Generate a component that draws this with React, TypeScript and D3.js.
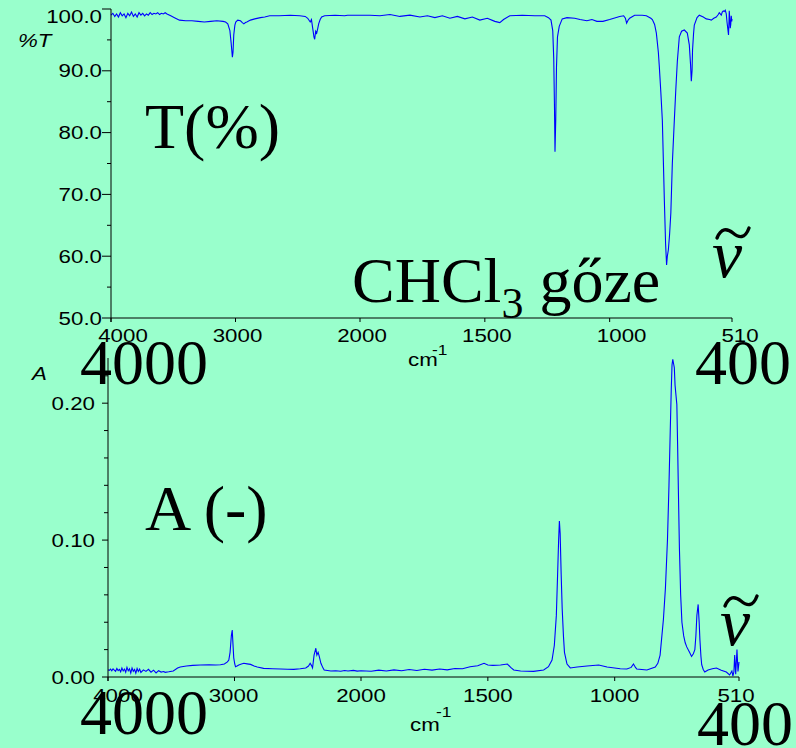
import React from "react";
import * as d3 from "d3";

// ---------- DATA ----------
const X_TICKS = [4000, 3000, 2000, 1500, 1000, 510];
const T_TICKS_MAJOR = [100, 90, 80, 70, 60, 50];
const T_TICKS_MINOR = [95, 85, 75, 65, 55];
const A_TICKS_MAJOR = [0, 0.1, 0.2];
const A_TICKS_MINOR = [0.02, 0.04, 0.06, 0.08, 0.12, 0.14, 0.16, 0.18, 0.22];

// Transmittance spectrum (wavenumber cm-1, %T)
const T_WN = [
  4000, 3985, 3970, 3955, 3940, 3925, 3910, 3895, 3880, 3865, 3850, 3835, 3820, 3805, 3790, 3775,
  3760, 3745, 3730, 3715, 3700, 3685, 3670, 3655, 3640, 3625, 3610, 3595, 3580, 3565, 3550, 3520,
  3490, 3450, 3400, 3350, 3300, 3250, 3200, 3150, 3100, 3080, 3062, 3045, 3035, 3025, 3020, 3014,
  3005, 2998, 2982, 2960, 2945, 2933, 2920, 2909, 2880, 2845, 2800, 2765, 2725, 2650, 2560, 2484,
  2440, 2420, 2400, 2390, 2380, 2370, 2364, 2356, 2348, 2340, 2332, 2320, 2308, 2284, 2200, 2124,
  2100, 2050, 2000, 1960, 1920, 1880, 1840, 1800, 1760, 1730, 1700, 1670, 1640, 1610, 1580, 1550,
  1520, 1490, 1460, 1440, 1425, 1400, 1350, 1300, 1260, 1245, 1235, 1228, 1224, 1221, 1219, 1216,
  1213, 1209, 1202, 1190, 1171, 1140, 1119, 1091, 1071, 1051, 1027, 1000, 960, 944, 937, 932,
  926, 920, 900, 870, 853, 835, 829, 820, 813, 805, 801, 795, 789, 781, 776, 772,
  769, 765, 760, 755, 749, 741, 735, 729, 721, 712, 701, 689, 681, 676, 673, 670,
  668, 664, 661, 650, 641, 625, 613, 600, 593, 583, 573, 565, 561, 557, 553, 549,
  545, 541, 537, 533, 530, 526, 524, 522, 521, 519, 517, 515, 513, 511, 510,
];
const T_VAL = [
  99.0, 99.3, 98.8, 99.2, 98.7, 99.4, 98.9, 99.2, 98.6, 99.3, 98.9, 99.5, 98.8, 99.2, 98.7, 99.4,
  99.0, 99.3, 98.9, 99.2, 99.0, 99.4, 99.1, 99.3, 99.2, 99.4, 99.1, 99.3, 99.2, 99.4, 99.2, 98.9,
  98.6, 98.2, 98.1, 98.1, 98.0, 97.9, 98.0, 98.1, 98.0, 97.9, 97.6, 96.5, 94.5, 92.2, 93.0, 95.8,
  97.4, 97.9, 98.2, 98.1, 97.8, 97.6, 97.8, 97.9, 98.2, 98.4, 98.6, 98.7, 98.9, 98.9, 99.0, 98.9,
  98.8, 98.5, 97.9, 98.3, 96.9, 95.5, 95.1, 96.4, 96.1, 96.8, 97.6, 98.3, 98.7, 98.9, 99.0, 98.9,
  99.0, 99.0, 99.0, 99.0, 98.9, 99.1, 98.8, 99.0, 98.7, 98.9, 98.6, 98.9, 98.5, 98.8, 98.4, 98.7,
  98.2, 98.5, 98.0, 97.8, 98.3, 98.9, 99.0, 98.9, 98.9, 98.6, 98.2, 96.5, 92.0, 84.0, 76.9, 82.0,
  90.6, 95.5, 97.2, 98.4, 98.6, 98.5, 98.3, 98.1, 98.3, 98.0, 98.0, 98.3, 98.8, 98.9, 98.5, 97.7,
  98.2, 98.5, 99.0, 99.0, 98.9, 98.5, 98.3, 97.5, 96.1, 93.0, 90.6, 86.5, 82.0, 69.1, 62.0, 58.6,
  60.0, 61.0, 63.5, 67.0, 75.0, 82.0, 87.0, 91.5, 95.5, 96.4, 96.6, 96.1, 94.2, 91.0, 88.3, 90.0,
  93.4, 96.0, 97.4, 98.6, 99.0, 98.7, 98.4, 98.3, 98.2, 98.5, 98.7, 99.1, 99.4, 99.2, 99.0, 99.5,
  99.7, 99.6, 99.8, 99.2, 97.9, 96.5, 95.8, 98.0, 99.7, 98.5, 96.9, 97.5, 98.9, 98.0, 98.4,
];

// Absorbance spectrum (wavenumber cm-1, A)
const A_WN = [
  4000, 3990, 3980, 3970, 3960, 3950, 3940, 3930, 3920, 3910, 3900, 3890, 3880, 3870, 3860, 3850,
  3840, 3830, 3820, 3810, 3800, 3790, 3780, 3770, 3760, 3750, 3740, 3720, 3700, 3680, 3660, 3640,
  3620, 3600, 3580, 3560, 3548, 3520, 3484, 3450, 3429, 3380, 3330, 3270, 3200, 3150, 3111, 3080,
  3056, 3045, 3035, 3025, 3018, 3012, 3006, 2998, 2992, 2980, 2966, 2945, 2926, 2900, 2873, 2845,
  2820, 2770, 2700, 2635, 2580, 2532, 2480, 2437, 2415, 2402, 2392, 2383, 2371, 2357, 2349, 2339,
  2330, 2317, 2300, 2291, 2238, 2200, 2160, 2130, 2103, 2060, 2030, 2000, 1960, 1930, 1900, 1870,
  1840, 1810, 1780, 1750, 1720, 1690, 1660, 1630, 1600, 1570, 1540, 1515, 1500, 1480, 1450, 1423,
  1410, 1398, 1371, 1320, 1280, 1261, 1247, 1238, 1230, 1225, 1221, 1218, 1215, 1211, 1207, 1202,
  1198, 1188, 1175, 1148, 1109, 1063, 1030, 978, 952, 935, 926, 918, 913, 873, 840, 830,
  821, 808, 800, 792, 786, 781, 777, 774, 771, 768, 765, 762, 758, 755, 752, 749,
  745, 740, 735, 728, 722, 716, 705, 697, 690, 684, 680, 676, 671, 667, 664, 660,
  657, 651, 645, 632, 615, 599, 580, 560, 547, 538, 534, 530, 527, 523, 518, 514, 510,
];
const A_VAL = [
  0.0053, 0.0048, 0.0058, 0.0045, 0.006, 0.005, 0.0042, 0.0062, 0.0047, 0.0056, 0.0038, 0.0065, 0.0044, 0.0058, 0.0035, 0.007,
  0.0045, 0.006, 0.003, 0.0066, 0.0042, 0.0055, 0.0028, 0.0062, 0.004, 0.0058, 0.0033, 0.0052, 0.0041, 0.0056, 0.0035, 0.005,
  0.003, 0.0046, 0.0036, 0.004, 0.0034, 0.0038, 0.0044, 0.0065, 0.0073, 0.008, 0.0085, 0.0088, 0.009, 0.0088, 0.009, 0.0095,
  0.011, 0.0124, 0.018, 0.03, 0.0343, 0.024, 0.014, 0.0095, 0.0075, 0.008, 0.0088, 0.0095, 0.01, 0.0096, 0.0092, 0.008,
  0.0073, 0.0063, 0.006, 0.0058, 0.0057, 0.0056, 0.006, 0.0066, 0.008, 0.01, 0.0085, 0.0066, 0.016, 0.021, 0.016, 0.018,
  0.015, 0.01, 0.0065, 0.0051, 0.0044, 0.0046, 0.0042, 0.0047, 0.0044, 0.0048, 0.0043, 0.0046, 0.0042, 0.005, 0.0044, 0.0052,
  0.0046, 0.0055, 0.0048, 0.0057, 0.005, 0.0058, 0.0052, 0.0062, 0.006, 0.0075, 0.0082, 0.01, 0.0088, 0.0085, 0.0088, 0.0095,
  0.007, 0.0051, 0.0044, 0.0041, 0.0051, 0.0075, 0.0124, 0.023, 0.045, 0.075, 0.1, 0.114, 0.105, 0.075, 0.05, 0.03,
  0.018, 0.0095, 0.0066, 0.0073, 0.008, 0.0088, 0.0073, 0.006, 0.0058, 0.007, 0.0095, 0.007, 0.0058, 0.0051, 0.0073, 0.01,
  0.016, 0.042, 0.065, 0.1, 0.14, 0.18, 0.21, 0.228, 0.232, 0.229, 0.226, 0.213, 0.205, 0.199, 0.17, 0.137,
  0.095, 0.06, 0.04, 0.03, 0.025, 0.022, 0.018, 0.015, 0.017, 0.02, 0.03, 0.045, 0.053, 0.04, 0.027, 0.015,
  0.009, 0.0055, 0.0036, 0.0051, 0.006, 0.0066, 0.005, 0.0036, 0.0015, 0.0044, 0.0007, 0.004, 0.016, 0.002, 0.02, 0.004, 0.011,
];

// ---------- STYLE ----------
const BG = "#99ffcc";
const LINE = "#0000ff";
const SANS = "'Liberation Sans', Arial, sans-serif";
const SERIF = "'Liberation Serif', 'Times New Roman', serif";
const SX = 1.24;
const TOP_LABEL_DX: Record<number, number> = { 4000: 12, 3000: 2, 2000: 2, 1500: 2, 1000: 12, 510: 8 };
const BOT_LABEL_DX: Record<number, number> = { 4000: 10, 3000: -1, 2000: 0, 1500: 0, 1000: 0, 510: -3 };

const W = 796;
const H = 748;

function Wide({ x, y, anchor, italic, size = 18, children }: any) {
  return (
    <g transform={`translate(${x},${y}) scale(${SX},1)`}>
      <text
        x={0}
        y={0}
        textAnchor={anchor || "start"}
        fontFamily={SANS}
        fontSize={size}
        fontStyle={italic ? "italic" : "normal"}
        fill="#000"
      >
        {children}
      </text>
    </g>
  );
}

function Nu({ x, y }: { x: number; y: number }) {
  // tilde drawn above an italic nu
  const tx = x + 5;
  const ty = y - 44;
  return (
    <g>
      <text x={x} y={y} fontFamily={SERIF} fontStyle="italic" fontSize={68} fill="#000">
        ν
      </text>
      <path
        d={`M${tx},${ty + 5} C${tx + 4},${ty - 5} ${tx + 10},${ty - 5} ${tx + 16},${ty} S${tx + 28},${ty + 6} ${tx + 32},${ty - 5}`}
        fill="none"
        stroke="#000"
        strokeWidth={3.4}
        strokeLinecap="round"
      />
    </g>
  );
}

export default function App() {
  const topX = d3.scaleLinear().domain([4000, 2000, 510]).range([111, 360, 732]);
  const topY = d3.scaleLinear().domain([50, 100]).range([318, 9]);
  const botX = d3.scaleLinear().domain([4000, 2000, 510]).range([108, 361, 739]);
  const botY = d3.scaleLinear().domain([0, 0.233]).range([677, 358]);

  const topLine = d3
    .line<number>()
    .x((_, i) => topX(T_WN[i]))
    .y((v) => topY(v))(T_VAL);
  const botLine = d3
    .line<number>()
    .x((_, i) => botX(A_WN[i]))
    .y((v) => botY(v))(A_VAL);

  const tX0 = topX(4000), tX1 = topX(510), tY0 = topY(50), tY1 = topY(100);
  const bX0 = botX(4000), bX1 = botX(510), bY0 = botY(0), bY1 = botY(0.233);

  return (
    <div style={{ position: "absolute", left: 0, top: 0, width: W, height: H, background: BG, overflow: "hidden" }}>
      <svg width={W} height={H} style={{ display: "block" }}>
        <rect x={0} y={0} width={W} height={H} fill={BG} />

        {/* ---------- TOP PANEL ---------- */}
        <path d={topLine || ""} fill="none" stroke={LINE} strokeWidth={1.1} />
        <line x1={tX0} y1={tY1} x2={tX0} y2={tY0 + 4} stroke="#000" strokeWidth={1} />
        <line x1={tX0} y1={tY0} x2={tX1} y2={tY0} stroke="#000" strokeWidth={1} />
        {T_TICKS_MAJOR.map((t) => (
          <g key={"tm" + t}>
            <line x1={tX0 - 9} x2={tX0} y1={topY(t)} y2={topY(t)} stroke="#000" />
            <Wide x={102} y={topY(t) + 6.5 + (t === 100 ? 7 : 0)} anchor="end">
              {t.toFixed(1)}
            </Wide>
          </g>
        ))}
        {T_TICKS_MINOR.map((t) => (
          <line key={"tn" + t} x1={tX0 - 4} x2={tX0} y1={topY(t)} y2={topY(t)} stroke="#000" />
        ))}
        {X_TICKS.map((t) => (
          <g key={"tx" + t}>
            <line x1={topX(t)} x2={topX(t)} y1={tY0} y2={tY0 + 4} stroke="#000" />
            <Wide x={topX(t) + TOP_LABEL_DX[t]} y={342} anchor="middle">
              {String(t)}
            </Wide>
          </g>
        ))}
        <Wide x={18} y={47} italic>
          %T
        </Wide>
        <Wide x={408} y={366}>
          cm
        </Wide>
        <Wide x={432} y={355} size={14}>
          -1
        </Wide>

        {/* ---------- BOTTOM PANEL ---------- */}
        <path d={botLine || ""} fill="none" stroke={LINE} strokeWidth={1.1} />
        <line x1={bX0} y1={bY1} x2={bX0} y2={bY0 + 4} stroke="#000" strokeWidth={1} />
        <line x1={bX0} y1={bY0} x2={bX1} y2={bY0} stroke="#000" strokeWidth={1} />
        {A_TICKS_MAJOR.map((t) => (
          <g key={"am" + t}>
            <line x1={bX0 - 6} x2={bX0} y1={botY(t)} y2={botY(t)} stroke="#000" />
            <Wide x={95} y={botY(t) + 6.5} anchor="end">
              {t.toFixed(2)}
            </Wide>
          </g>
        ))}
        {A_TICKS_MINOR.map((t) => (
          <line key={"an" + t} x1={bX0 - 4} x2={bX0} y1={botY(t)} y2={botY(t)} stroke="#000" />
        ))}
        {X_TICKS.map((t) => (
          <g key={"bx" + t}>
            <line x1={botX(t)} x2={botX(t)} y1={bY0} y2={bY0 + 4} stroke="#000" />
            <Wide x={botX(t) + BOT_LABEL_DX[t]} y={702} anchor="middle">
              {String(t)}
            </Wide>
          </g>
        ))}
        <Wide x={32} y={380} italic>
          A
        </Wide>
        <Wide x={410} y={731}>
          cm
        </Wide>
        <Wide x={436} y={717} size={14}>
          -1
        </Wide>

        {/* ---------- OVERLAY ANNOTATIONS ---------- */}
        <text x={145} y={148} fontFamily={SERIF} fontSize={64} fill="#000">
          T(%)
        </text>
        <text x={352} y={302} fontFamily={SERIF} fontSize={64} fill="#000">
          CHCl
          <tspan fontSize={44} dy={16}>
            3
          </tspan>
          <tspan dy={-16} dx={0}>
            {" gőze"}
          </tspan>
        </text>
        <Nu x={712} y={277} />
        <text x={80} y={384} fontFamily={SERIF} fontSize={64} fill="#000">
          4000
        </text>
        <text x={695} y={384} fontFamily={SERIF} fontSize={64} fill="#000">
          400
        </text>

        <text x={145} y={530} fontFamily={SERIF} fontSize={64} fill="#000">
          A (-)
        </text>
        <Nu x={720} y={645} />
        <text x={80} y={734} fontFamily={SERIF} fontSize={64} fill="#000">
          4000
        </text>
        <text x={697} y={745} fontFamily={SERIF} fontSize={64} fill="#000">
          400
        </text>
      </svg>
    </div>
  );
}
